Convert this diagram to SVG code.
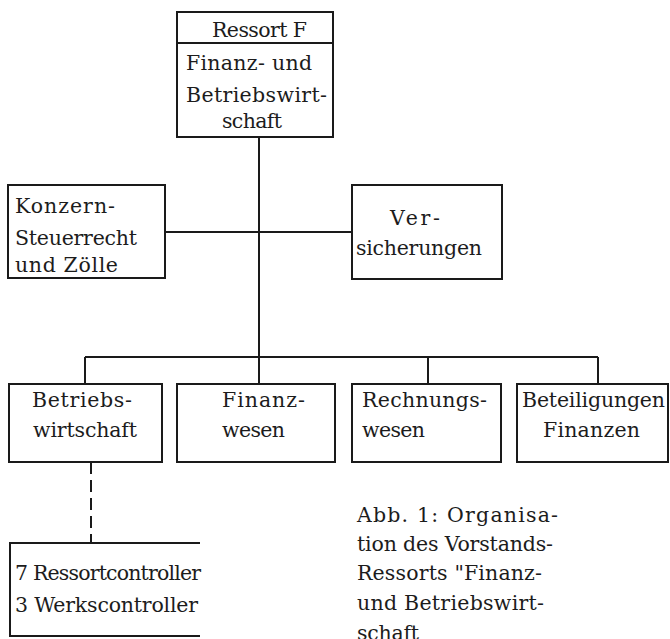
<svg xmlns="http://www.w3.org/2000/svg" width="670" height="639" viewBox="0 0 670 639">
<style>
.box{fill:none;stroke:#1a1a1a;stroke-width:2}
.ln{fill:none;stroke:#1a1a1a;stroke-width:2}
.dash{fill:none;stroke:#1a1a1a;stroke-width:2;stroke-dasharray:12 6}
text{font-family:"DejaVu Serif","Liberation Serif",serif;font-size:20.5px;fill:#1c1c1c}
</style>
<rect width="670" height="639" fill="#ffffff"/>
<g id="connectors">
<line class="ln" x1="259" y1="137" x2="259" y2="384"/>
<line class="ln" x1="165" y1="232" x2="352" y2="232"/>
<line class="ln" x1="85" y1="357" x2="598" y2="357"/>
<line class="ln" x1="85" y1="357" x2="85" y2="384"/>
<line class="ln" x1="428" y1="357" x2="428" y2="384"/>
<line class="ln" x1="598" y1="357" x2="598" y2="384"/>
<line class="dash" x1="91" y1="462" x2="91" y2="543"/>
</g>
<g id="ressortF">
<rect class="box" x="177" y="12" width="156" height="125"/>
<line class="ln" x1="177" y1="43" x2="333" y2="43"/>
<text x="212" y="37" textLength="95">Ressort F</text>
<text x="186" y="70" textLength="126">Finanz- und</text>
<text x="186" y="102" textLength="141">Betriebswirt-</text>
<text x="222" y="128" textLength="60">schaft</text>
</g>
<g id="konzern">
<rect class="box" x="8" y="185" width="157" height="93"/>
<text x="15" y="213" textLength="100">Konzern-</text>
<text x="15" y="245" textLength="122">Steuerrecht</text>
<text x="15" y="272" textLength="103">und Zölle</text>
</g>
<g id="versicherungen">
<rect class="box" x="352" y="185" width="150" height="94"/>
<text x="390" y="225" textLength="50">Ver-</text>
<text x="356" y="255" textLength="126">sicherungen</text>
</g>
<g id="betriebswirtschaft">
<rect class="box" x="9" y="384" width="153" height="78"/>
<text x="32" y="407" textLength="100">Betriebs-</text>
<text x="33" y="437" textLength="104">wirtschaft</text>
</g>
<g id="finanzwesen">
<rect class="box" x="177" y="384" width="158" height="78"/>
<text x="222" y="407" textLength="83">Finanz-</text>
<text x="222" y="437" textLength="63">wesen</text>
</g>
<g id="rechnungswesen">
<rect class="box" x="352" y="384" width="149" height="78"/>
<text x="362" y="407" textLength="125">Rechnungs-</text>
<text x="362" y="437" textLength="63">wesen</text>
</g>
<g id="beteiligungen">
<rect class="box" x="517" y="384" width="151" height="78"/>
<text x="522" y="407" textLength="143">Beteiligungen</text>
<text x="543" y="437" textLength="97">Finanzen</text>
</g>
<g id="controller">
<path class="box" d="M200,543 H10 V636 H200"/>
<text x="15" y="580" textLength="186">7 Ressortcontroller</text>
<text x="15" y="612" textLength="183">3 Werkscontroller</text>
</g>
<g id="caption">
<text x="357" y="522" textLength="201">Abb. 1: Organisa-</text>
<text x="357" y="551" textLength="196">tion des Vorstands-</text>
<text x="357" y="580" textLength="185">Ressorts "Finanz-</text>
<text x="357" y="610" textLength="187">und Betriebswirt-</text>
<text x="357" y="640" textLength="62">schaft</text>
</g>
</svg>
